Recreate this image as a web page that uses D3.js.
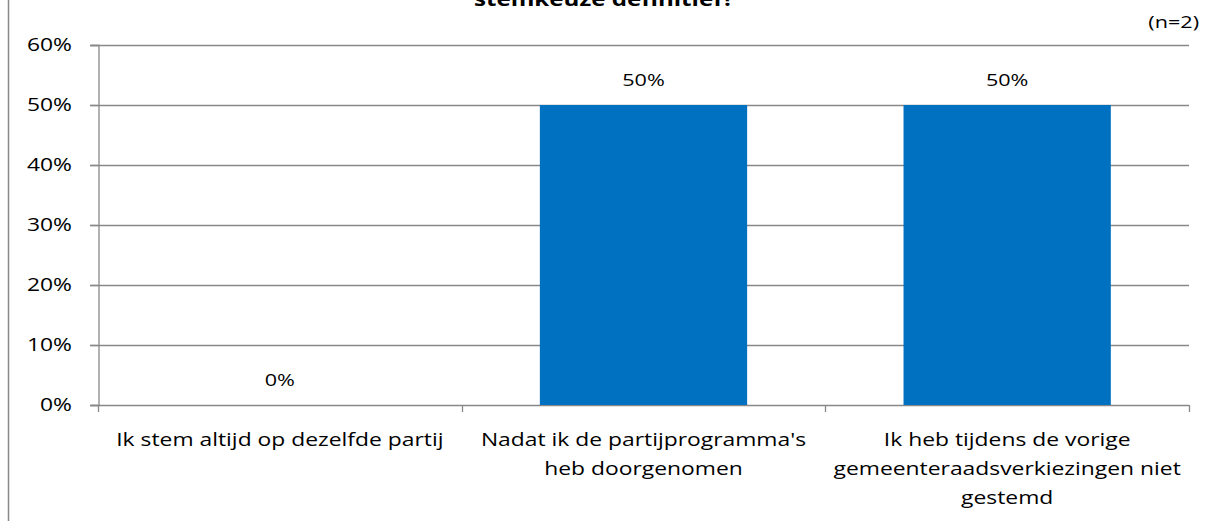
<!DOCTYPE html>
<html><head><meta charset="utf-8">
<script src="https://cdn.jsdelivr.net/npm/d3@7"></script>
<style>
html,body{margin:0;padding:0;background:#fff;}
svg{display:block;font-family:"Open Sans",sans-serif;}
</style></head>
<body><svg id="c" width="1208" height="531"></svg>
<script>
const categories = ["Ik stem altijd op dezelfde partij", "Nadat ik de partijprogramma's heb doorgenomen", "Ik heb tijdens de vorige gemeenteraadsverkiezingen niet gestemd"];
const categoryLines = [["Ik stem altijd op dezelfde partij"], ["Nadat ik de partijprogramma's", "heb doorgenomen"], ["Ik heb tijdens de vorige", "gemeenteraadsverkiezingen niet", "gestemd"]];
const values = [0, 0.5, 0.5];
const yTicks = [0, 0.1, 0.2, 0.3, 0.4, 0.5, 0.6];
const titleText = "stemkeuze definitief?";
const noteText = "(n=2)";

const svg = d3.select("#c");
const L = 98, R = 1189, T = 45, B = 405;
const S = 1.27; // horizontal stretch of the reference's lettering
const x = d3.scaleBand().domain(categories).range([L, R]).paddingInner(0.43).paddingOuter(0.215);
const y = d3.scaleLinear().domain([0, 0.6]).range([B, T]);
const fmt = d3.format(".0%");
const grid = "#888888";

function sText(parent, px, py) {
  return parent.append("g").attr("transform", `translate(${px},${py}) scale(${S},1)`).append("text");
}

// frame left line
svg.append("line").attr("x1", 8.5).attr("x2", 8.5).attr("y1", 0).attr("y2", 521).attr("stroke", grid).attr("stroke-width", 1.5);

// title (cut at top as in the reference)
sText(svg, 604, 6).attr("text-anchor", "middle")
  .attr("font-weight", "bold").attr("font-size", 19).attr("fill", "#000").text(titleText);
sText(svg, 1199, 28).attr("text-anchor", "end")
  .attr("font-size", 17).attr("fill", "#000").text(noteText);

// gridlines
svg.append("g").selectAll("line").data(yTicks).join("line")
  .attr("x1", L - 8).attr("x2", R).attr("y1", d => Math.round(y(d)) + 0.5).attr("y2", d => Math.round(y(d)) + 0.5)
  .attr("stroke", grid).attr("stroke-width", 1.3);

// y axis
const yAxis = svg.append("g").attr("transform", `translate(${L + 0.5},0)`)
  .call(d3.axisLeft(y).tickValues(yTicks).tickFormat(fmt).tickSize(8).tickPadding(18));
yAxis.select(".domain").attr("stroke", grid).attr("stroke-width", 1.3);
yAxis.selectAll(".tick line").attr("stroke", grid).attr("stroke-width", 1.3);
yAxis.selectAll("text").attr("font-size", 18).attr("fill", "#000").attr("font-family", "Open Sans")
  .attr("x", -26.5 / S).attr("transform", `scale(${S},1)`);

// bars
svg.append("g").selectAll("rect").data(values).join("rect")
  .attr("x", (d, i) => x(categories[i])).attr("width", x.bandwidth())
  .attr("y", d => y(d)).attr("height", d => y(0) - y(d)).attr("fill", "#0070C0");

// value labels
const vl = svg.append("g");
values.forEach((v, i) => {
  sText(vl, x(categories[i]) + x.bandwidth() / 2, y(v) - 19)
    .attr("text-anchor", "middle").attr("font-size", 17).attr("fill", "#000").text(fmt(v));
});

// x axis ticks
const step = x.step();
const bounds = d3.range(categories.length + 1).map(i => L + i * step);
svg.append("g").selectAll("line").data(bounds).join("line")
  .attr("x1", d => Math.round(d) + 0.5).attr("x2", d => Math.round(d) + 0.5).attr("y1", B).attr("y2", B + 7)
  .attr("stroke", grid).attr("stroke-width", 1.3);

// category labels
const cg = svg.append("g");
categoryLines.forEach((lines, i) => {
  const t = sText(cg, x(categories[i]) + x.bandwidth() / 2, 446)
    .attr("text-anchor", "middle").attr("font-size", 18).attr("fill", "#000");
  t.selectAll("tspan").data(lines).join("tspan")
    .attr("x", 0).attr("dy", (d, j) => j === 0 ? 0 : 29).text(d => d);
});
</script></body></html>
